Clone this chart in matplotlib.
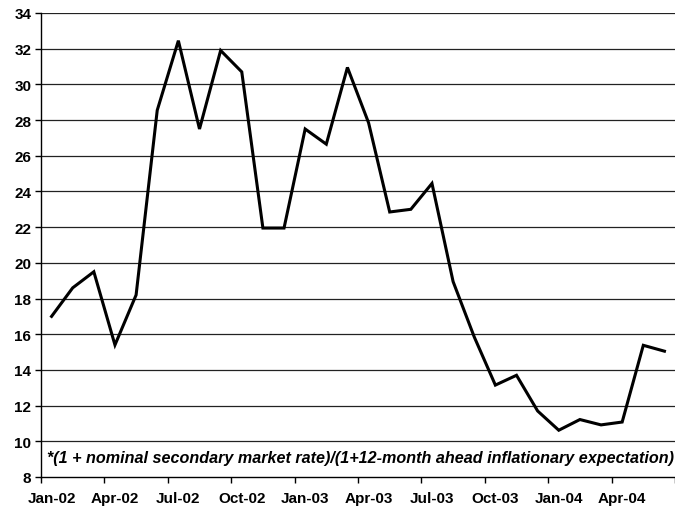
import matplotlib
matplotlib.use('Agg')
import matplotlib.pyplot as plt
import numpy as np

# monthly series, Jan-02 .. Jun-04
months = ['Jan-02', 'Feb-02', 'Mar-02', 'Apr-02', 'May-02', 'Jun-02',
          'Jul-02', 'Aug-02', 'Sep-02', 'Oct-02', 'Nov-02', 'Dec-02',
          'Jan-03', 'Feb-03', 'Mar-03', 'Apr-03', 'May-03', 'Jun-03',
          'Jul-03', 'Aug-03', 'Sep-03', 'Oct-03', 'Nov-03', 'Dec-03',
          'Jan-04', 'Feb-04', 'Mar-04', 'Apr-04', 'May-04', 'Jun-04']
values = [17.0, 18.6, 19.5, 15.4, 18.2, 28.55,
          32.45, 27.5, 31.9, 30.7, 21.95, 21.95,
          27.5, 26.65, 30.95, 27.85, 22.85, 23.0,
          24.45, 18.95, 15.85, 13.15, 13.7, 11.7,
          10.62, 11.22, 10.92, 11.08, 15.38, 15.05]
note = '*(1 + nominal secondary market rate)/(1+12-month ahead inflationary expectation)'

plt.rcParams['font.family'] = ['Liberation Sans', 'DejaVu Sans']

fig = plt.figure(figsize=(6.75, 5.1), dpi=100)
ax = fig.add_axes([41 / 675, 1 - 478 / 510, 1 - 41 / 675, (478 - 14) / 510])

x = np.arange(len(values))
ax.plot(x, values, color='black', linewidth=2.2, solid_joinstyle='miter')

ax.set_ylim(8, 34)
ax.set_yticks(np.arange(8, 35, 2))
ax.set_xlim(-0.5, 29.0)
for yv in np.arange(10, 35, 2):
    ax.axhline(yv, color='#222222', linewidth=0.9, zorder=0)

# labels sit on every third month, ticks between the quarters
ax.set_xticks(x[::3])
ax.set_xticklabels(months[::3])
ax.set_xticks(np.arange(-0.5, 30, 3), minor=True)
ax.tick_params(axis='x', which='major', length=0, pad=10)
ax.tick_params(axis='x', which='minor', length=4, width=1, direction='out')
ax.tick_params(axis='y', length=4, width=1, direction='out', pad=3)
for lab in ax.get_xticklabels() + ax.get_yticklabels():
    lab.set_fontweight('bold')
    lab.set_fontsize(11)

for s in ['top', 'right']:
    ax.spines[s].set_visible(False)
ax.spines['left'].set_linewidth(1)
ax.spines['bottom'].set_linewidth(1)

ax.text(0.009, 9.1, note, fontsize=11.6, fontweight='bold', fontstyle='italic',
        ha='left', va='center', transform=ax.get_yaxis_transform())

fig.savefig('out.png', dpi=100)
